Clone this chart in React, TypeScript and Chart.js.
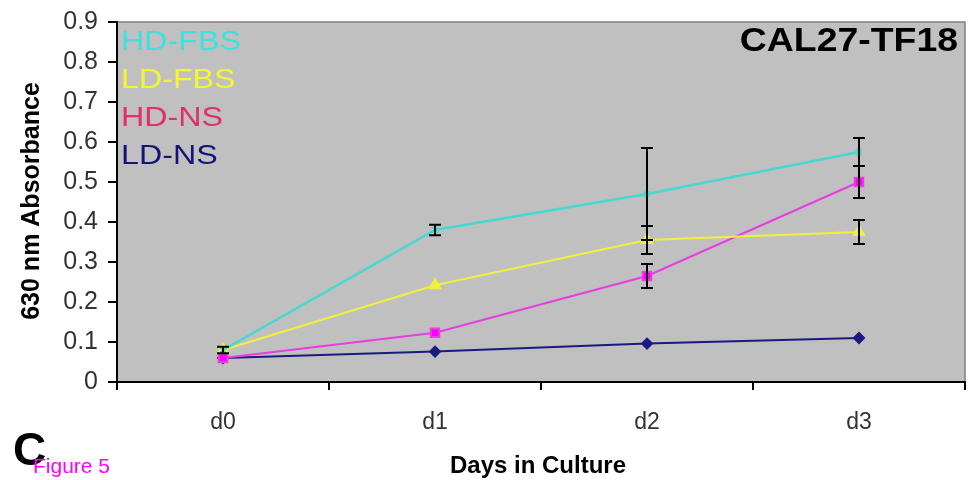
import React, { useEffect, useRef } from "react";
import { Chart, registerables } from "chart.js";

Chart.register(...registerables);

const categories = ["d0", "d1", "d2", "d3"];
const seriesNames = ["HD-FBS", "LD-FBS", "HD-NS", "LD-NS"];
const hdFbs = [0.08, 0.38, 0.47, 0.575];
const ldFbs = [0.08, 0.242, 0.355, 0.375];
const hdNs = [0.06, 0.123, 0.265, 0.5];
const ldNs = [0.06, 0.076, 0.096, 0.11];
const hdFbsErr = [0.008, 0.013, 0.115, 0.035];
const ldFbsErr = [0, 0, 0.035, 0.03];
const hdNsErr = [0, 0, 0.03, 0.04];
const ldNsErr = [0, 0, 0, 0];
const yTicks = [0, 0.1, 0.2, 0.3, 0.4, 0.5, 0.6, 0.7, 0.8, 0.9];

const lineColors = ["#45d8d0", "#f2f03a", "#e83ee0", "#1a1a80"];
const legendColors = ["#3ee0e0", "#f5f530", "#e0306a", "#141478"];

const FONT = "'Liberation Sans', Arial, sans-serif";

const decorPlugin = {
  id: "decor",
  beforeDraw(chart: any) {
    const { ctx, chartArea: a } = chart;
    ctx.save();
    ctx.fillStyle = "#ffffff";
    ctx.fillRect(0, 0, chart.width, chart.height);
    ctx.fillStyle = "#c0c0c0";
    ctx.fillRect(a.left, a.top, a.right - a.left, a.bottom - a.top);
    ctx.strokeStyle = "#808080";
    ctx.lineWidth = 1.5;
    ctx.strokeRect(a.left, a.top, a.right - a.left, a.bottom - a.top);
    ctx.restore();
  },
  afterDatasetsDraw(chart: any) {
    const { ctx } = chart;
    const xs = chart.scales.x;
    const ys = chart.scales.y;
    const all = [
      [hdFbs, hdFbsErr],
      [ldFbs, ldFbsErr],
      [hdNs, hdNsErr],
      [ldNs, ldNsErr],
    ];
    ctx.save();
    ctx.strokeStyle = "#000000";
    ctx.lineWidth = 2;
    all.forEach(([vals, errs]) => {
      vals.forEach((v: number, i: number) => {
        const e = errs[i];
        if (!e) return;
        const x = xs.getPixelForValue(i);
        const y1 = ys.getPixelForValue(v + e);
        const y2 = ys.getPixelForValue(v - e);
        ctx.beginPath();
        ctx.moveTo(x, y1);
        ctx.lineTo(x, y2);
        ctx.moveTo(x - 6, y1);
        ctx.lineTo(x + 6, y1);
        ctx.moveTo(x - 6, y2);
        ctx.lineTo(x + 6, y2);
        ctx.stroke();
      });
    });
    ctx.restore();
  },
  afterDraw(chart: any) {
    const { ctx, chartArea: a } = chart;
    ctx.save();
    // legend texts
    ctx.textBaseline = "alphabetic";
    ctx.textAlign = "left";
    seriesNames.forEach((n, i) => {
      ctx.save();
      ctx.translate(a.left + 4, 50 + i * 38);
      ctx.scale(1.15, 1);
      ctx.font = `28px ${FONT}`;
      ctx.fillStyle = legendColors[i];
      ctx.fillText(n, 0, 0);
      ctx.restore();
    });
    // title
    ctx.save();
    ctx.translate(958, 51);
    ctx.scale(1.1, 1);
    ctx.textAlign = "right";
    ctx.font = `bold 34px ${FONT}`;
    ctx.fillStyle = "#000";
    ctx.fillText("CAL27-TF18", 0, 0);
    ctx.restore();
    // axis titles
    ctx.fillStyle = "#000";
    ctx.textAlign = "center";
    ctx.font = `bold 24px ${FONT}`;
    ctx.fillText("Days in Culture", 538, 473);
    ctx.save();
    ctx.translate(39, 201);
    ctx.rotate(-Math.PI / 2);
    ctx.font = `bold 25px ${FONT}`;
    ctx.fillText("630 nm Absorbance", 0, 0);
    ctx.restore();
    // C and Figure 5
    ctx.textAlign = "left";
    ctx.font = `bold 46px ${FONT}`;
    ctx.fillText("C", 13, 465);
    ctx.font = `21px ${FONT}`;
    ctx.fillStyle = "#ff00ff";
    ctx.fillText("Figure 5", 33, 473);
    ctx.restore();
  },
};

export default function App() {
  const ref = useRef<HTMLCanvasElement | null>(null);
  useEffect(() => {
    if (!ref.current) return;
    const chart = new Chart(ref.current, {
      type: "line",
      data: {
        labels: categories,
        datasets: [
          {
            label: seriesNames[0],
            data: hdFbs,
            borderColor: lineColors[0],
            backgroundColor: lineColors[0],
            borderWidth: 2.5,
            pointStyle: "crossRot",
            pointRadius: 4,
            pointBorderWidth: 2,
          },
          {
            label: seriesNames[1],
            data: ldFbs,
            borderColor: lineColors[1],
            backgroundColor: lineColors[1],
            borderWidth: 2,
            pointStyle: "triangle",
            pointRadius: 6,
          },
          {
            label: seriesNames[2],
            data: hdNs,
            borderColor: lineColors[2],
            backgroundColor: "#ff00ff",
            borderWidth: 2,
            pointStyle: "rect",
            pointRadius: 6,
          },
          {
            label: seriesNames[3],
            data: ldNs,
            borderColor: lineColors[3],
            backgroundColor: lineColors[3],
            borderWidth: 2,
            pointStyle: "rectRot",
            pointRadius: 5,
          },
        ],
      },
      options: {
        responsive: false,
        animation: false,
        layout: { padding: { left: 0, top: 22, right: 2, bottom: 0 } },
        plugins: { legend: { display: false }, tooltip: { enabled: false }, title: { display: false } },
        scales: {
          x: {
            type: "category",
            offset: true,
            grid: { offset: true, drawOnChartArea: false, drawTicks: true, tickLength: 8, color: "#000", lineWidth: 2 },
            border: { display: true, color: "#000", width: 2 },
            ticks: { color: "#333", font: { family: FONT, size: 23 }, padding: 19 },
            afterFit(scale: any) {
              scale.height = 98;
            },
          },
          y: {
            min: 0,
            max: 0.9,
            afterBuildTicks(scale: any) {
              scale.ticks = yTicks.map((v) => ({ value: v }));
            },
            grid: { drawOnChartArea: false, drawTicks: true, tickLength: 9, color: "#000", lineWidth: 2 },
            border: { display: true, color: "#000", width: 2 },
            ticks: {
              color: "#333",
              font: { family: FONT, size: 25, lineHeight: 1.0 },
              padding: 10,
              callback: (v: any) => (Number(v) === 0 ? "0" : Number(v).toFixed(1)),
            },
            afterFit(scale: any) {
              scale.width = 117;
              scale.paddingTop = 0;
            },
          },
        },
      },
      plugins: [decorPlugin],
    });
    return () => chart.destroy();
  }, []);
  return (
    <div style={{ position: "fixed", left: 0, top: 0, width: 973, height: 480 }}>
      <canvas ref={ref} width={973} height={480} style={{ width: 973, height: 480 }} />
    </div>
  );
}
